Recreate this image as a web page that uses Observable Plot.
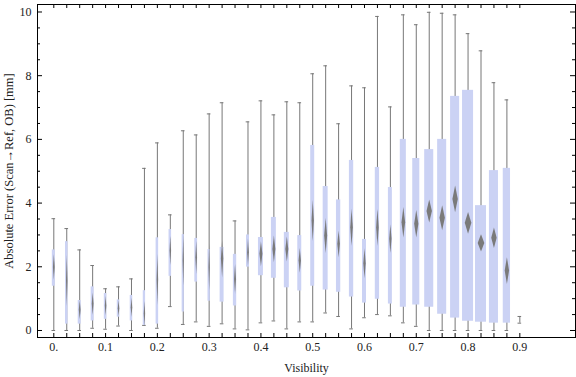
<!DOCTYPE html>
<html><head><meta charset="utf-8">
<script src="https://cdn.jsdelivr.net/npm/d3@7"></script>
<script src="https://cdn.jsdelivr.net/npm/@observablehq/plot@0.6"></script>
<style>body{margin:0;background:#fff}</style>
</head><body><div id="chart"></div>
<script>
// ---- data ----
const visibility = [0, 0.025, 0.05, 0.075, 0.1, 0.125, 0.15, 0.175, 0.2, 0.225, 0.25, 0.275, 0.3, 0.325, 0.35, 0.375, 0.4, 0.425, 0.45, 0.475, 0.5, 0.525, 0.55, 0.575, 0.6, 0.625, 0.65, 0.675, 0.7, 0.725, 0.75, 0.775, 0.8, 0.825, 0.85, 0.875, 0.9];
const whiskerLow = [0.00, 0.00, 0.00, 0.07, 0.04, 0.14, 0.00, 0.16, 0.07, 0.75, 0.19, 0.27, 0.13, 0.21, 0.05, 0.02, 0.24, 0.30, 0.05, 0.27, 0.27, 0.55, 0.44, 0.05, 0.40, 0.50, 0.46, 0.24, 0.13, 0.00, 0.00, 0.00, 0.00, 0.00, 0.00, 0.00, 0.23];
const quartile1 = [1.39, 0.20, 0.20, 0.30, 0.35, 0.42, 0.30, 0.16, 0.20, 1.70, 0.58, 1.52, 0.92, 0.89, 0.77, 1.99, 1.72, 1.64, 1.34, 1.24, 1.39, 1.27, 1.20, 1.05, 0.86, 0.98, 0.83, 0.73, 0.80, 0.73, 0.51, 0.39, 0.29, 0.26, 0.23, 0.23, 0.30];
const meanValue = [1.99, 1.57, 0.65, 0.84, 0.78, 0.70, 0.73, 0.53, 1.60, 2.51, 2.20, 2.30, 1.99, 2.25, 1.62, 2.46, 2.41, 2.56, 2.56, 2.20, 3.45, 2.98, 2.72, 3.24, 2.11, 3.24, 2.88, 3.40, 3.35, 3.75, 3.54, 4.13, 3.38, 2.75, 2.91, 1.88, 0.30];
const quartile3 = [2.53, 2.79, 0.94, 1.37, 1.16, 0.96, 1.10, 1.25, 2.91, 3.17, 3.01, 2.89, 2.54, 2.61, 2.39, 3.00, 2.92, 3.55, 3.08, 2.98, 5.81, 4.52, 4.10, 5.34, 2.86, 5.12, 4.49, 6.00, 5.40, 5.68, 6.00, 7.35, 7.54, 3.92, 5.02, 5.09, 0.30];
const whiskerHigh = [3.51, 3.20, 2.53, 2.04, 1.31, 1.37, 1.62, 5.09, 5.89, 3.63, 6.27, 6.14, 6.80, 7.15, 3.44, 6.55, 7.21, 6.77, 7.18, 7.15, 8.06, 8.31, 6.49, 7.68, 7.62, 9.86, 7.02, 9.91, 9.60, 9.99, 9.96, 9.91, 9.32, 8.78, 7.78, 7.24, 0.44];
const meanCI = [0.40, 0.80, 0.30, 0.35, 0.30, 0.25, 0.30, 0.40, 0.80, 0.47, 0.80, 0.52, 0.73, 0.58, 0.47, 0.42, 0.39, 0.42, 0.39, 0.39, 0.65, 0.55, 0.42, 0.58, 0.47, 0.58, 0.45, 0.48, 0.43, 0.36, 0.39, 0.42, 0.34, 0.27, 0.32, 0.42, 0];
const relSampleSize = [0.27, 0.23, 0.27, 0.27, 0.23, 0.23, 0.23, 0.21, 0.23, 0.23, 0.20, 0.25, 0.21, 0.36, 0.30, 0.27, 0.45, 0.45, 0.45, 0.36, 0.36, 0.45, 0.39, 0.39, 0.36, 0.39, 0.36, 0.55, 0.64, 0.82, 0.82, 0.82, 1.00, 1.00, 0.82, 0.66, 0];
const xTickLabelValues = [0, 0.1, 0.2, 0.3, 0.4, 0.5, 0.6, 0.7, 0.8, 0.9];
const xTickLabels = ["0.", "0.1", "0.2", "0.3", "0.4", "0.5", "0.6", "0.7", "0.8", "0.9"];
const yTickLabelValues = [0, 2, 4, 6, 8, 10];
const yMinorTicks = [0, 0.5, 1, 1.5, 2, 2.5, 3, 3.5, 4, 4.5, 5, 5.5, 6, 6.5, 7, 7.5, 8, 8.5, 9, 9.5, 10];
const xLabel = "Visibility";
const yLabel = "Absolute Error (Scan\u2192Ref, OB) [mm]";

// ---- layout/style ----
const W = 576, H = 377;
const mL = 37, mR = 1, mT = 4, mB = 40;
const frameW = W - mL - mR, frameH = H - mT - mB;
const maxBoxW = 0.0213;     // widest box, in x units
const capHalf = 0.0035;
const boxColor = "#cbd2f4";
const whiskerColor = "#777777";
const font = "'Liberation Serif', 'DejaVu Serif', serif";

const rows = visibility.map((v, i) => ({
  x: v, lo: whiskerLow[i], q1: quartile1[i], mean: meanValue[i], q3: quartile3[i],
  hi: whiskerHigh[i], ci: meanCI[i], hw: relSampleSize[i] * maxBoxW / 2, i
}));
const diamonds = rows.filter(r => r.ci > 0).flatMap(r => {
  const dw = r.hw * 0.6;
  return [
    {i: r.i, x: r.x, y: r.mean - r.ci},
    {i: r.i, x: r.x + dw, y: r.mean},
    {i: r.i, x: r.x, y: r.mean + r.ci},
    {i: r.i, x: r.x - dw, y: r.mean}
  ];
});
const yMajor = new Set(yTickLabelValues);
const labelMap = new Map(xTickLabelValues.map((v, i) => [v, xTickLabels[i]]));

const chart = Plot.plot({
  width: W, height: H,
  marginLeft: mL, marginRight: mR, marginTop: mT, marginBottom: mB,
  style: {fontFamily: font, fontSize: "12px", background: "#fff", color: "#222"},
  x: {domain: [-0.0315, 1.0075]},
  y: {domain: [-0.22, 10.235]},
  marks: [
    // whiskers
    Plot.ruleX(rows, {x: "x", y1: "lo", y2: "hi", stroke: whiskerColor, strokeWidth: 1}),
    Plot.ruleY(rows, {y: "lo", x1: d => d.x - capHalf, x2: d => d.x + capHalf, stroke: whiskerColor, strokeWidth: 1}),
    Plot.ruleY(rows, {y: "hi", x1: d => d.x - capHalf, x2: d => d.x + capHalf, stroke: whiskerColor, strokeWidth: 1}),
    // boxes
    Plot.rect(rows.filter(r => r.hw > 0), {x1: d => d.x - d.hw, x2: d => d.x + d.hw, y1: "q1", y2: "q3", fill: boxColor}),
    // mean diamonds
    Plot.line(diamonds, {x: "x", y: "y", z: "i", fill: "#7a7a7a", stroke: "none", curve: "linear-closed"}),
    // frame
    Plot.frame({stroke: "#000", strokeWidth: 1}),
    // inward frame ticks
    Plot.tickX(visibility, {x: d => d, insetTop: frameH - 4, stroke: "#000"}),
    Plot.tickX(visibility, {x: d => d, insetBottom: frameH - 4, stroke: "#000"}),
    Plot.tickY(yMinorTicks, {y: d => d, insetRight: frameW - 3, stroke: "#000", filter: d => !yMajor.has(d)}),
    Plot.tickY(yMinorTicks, {y: d => d, insetLeft: frameW - 3, stroke: "#000", filter: d => !yMajor.has(d)}),
    Plot.tickY(yTickLabelValues, {y: d => d, insetRight: frameW - 5, stroke: "#000"}),
    Plot.tickY(yTickLabelValues, {y: d => d, insetLeft: frameW - 5, stroke: "#000"}),
    // tick labels
    Plot.axisX({ticks: xTickLabelValues, tickFormat: d => labelMap.get(d), tickSize: 0, tickPadding: 5, label: null, fontSize: 12, fontFamily: font, fill: "#222"}),
    Plot.axisY({ticks: yTickLabelValues, tickFormat: d => String(d), tickSize: 0, tickPadding: 6, label: null, fontSize: 12, fontFamily: font, fill: "#222"}),
    // axis titles
    Plot.text([xLabel], {text: d => d, frameAnchor: "bottom", textAnchor: "middle", dy: 34, fontSize: 12, fontFamily: font, fill: "#222"}),
    Plot.text([yLabel], {text: d => d, frameAnchor: "left", textAnchor: "middle", rotate: -90, dx: -29, fontSize: 12.5, fontFamily: font, fill: "#222"})
  ]
});
document.getElementById("chart").appendChild(chart);
</script>
</body></html>
